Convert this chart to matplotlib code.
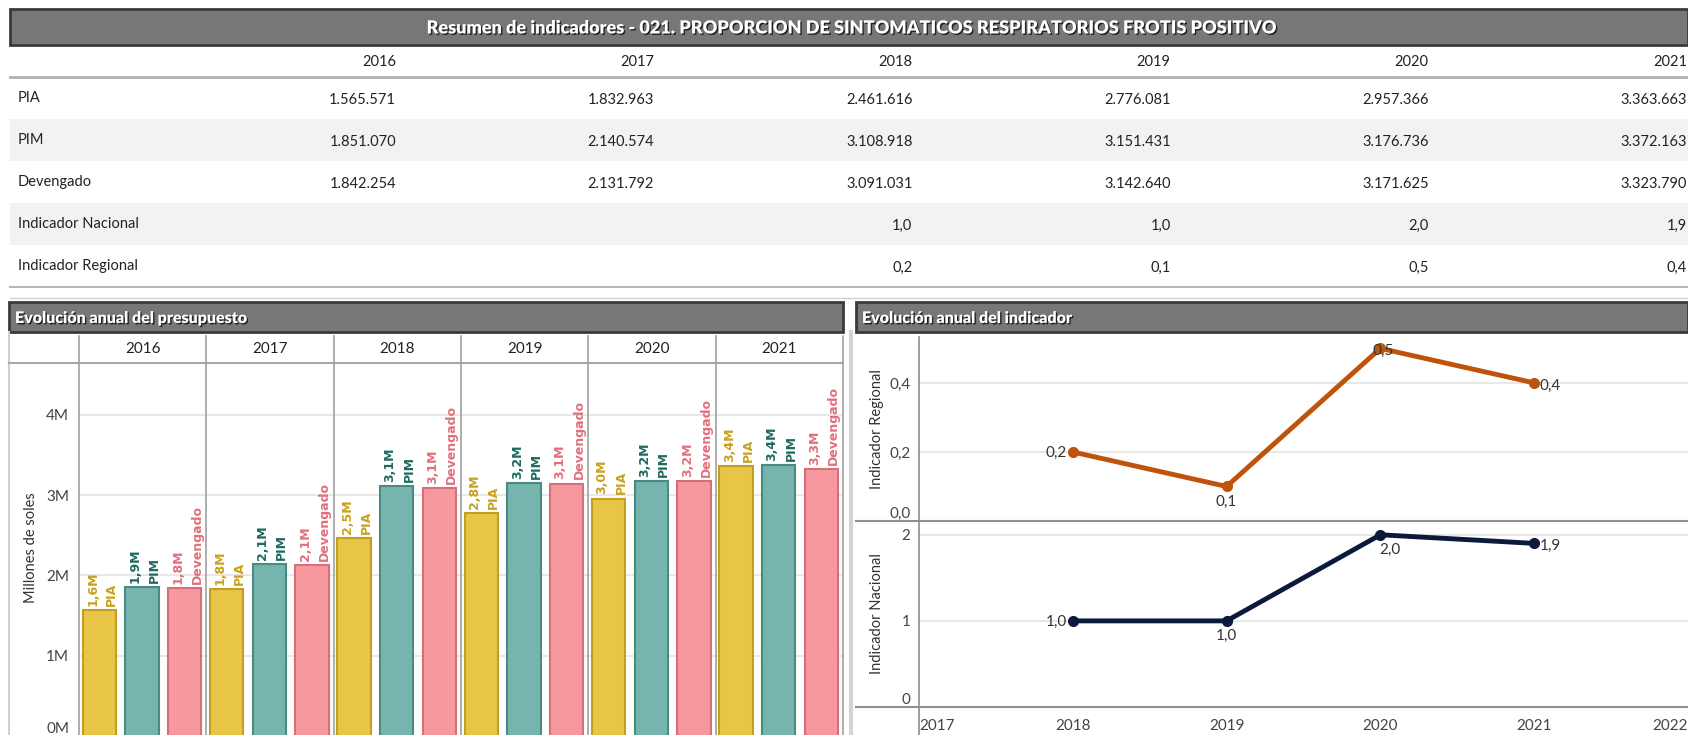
import matplotlib
matplotlib.use("Agg")
import matplotlib.pyplot as plt
import matplotlib.patches as mpatches
import matplotlib.patheffects as pe
import matplotlib.transforms as mtransforms
from matplotlib.ticker import FuncFormatter
import numpy as np

W, H = 1688, 735

# datos
years = [2016, 2017, 2018, 2019, 2020, 2021]
pia = [1565571, 1832963, 2461616, 2776081, 2957366, 3363663]
pim = [1851070, 2140574, 3108918, 3151431, 3176736, 3372163]
devengado = [1842254, 2131792, 3091031, 3142640, 3171625, 3323790]

ind_years = [2018, 2019, 2020, 2021]
ind_nacional = [1.0, 1.0, 2.0, 1.9]
ind_regional = [0.2, 0.1, 0.5, 0.4]

titulo = "Resumen de indicadores - 021. PROPORCION DE SINTOMATICOS RESPIRATORIOS FROTIS POSITIVO"


def miles(v):
    return f"{v:,}".replace(",", ".")


def dec(v):
    return f"{v:.1f}".replace(".", ",")


plt.rcParams['font.family'] = ['Lato', 'DejaVu Sans']

fig = plt.figure(figsize=(W / 100, H / 100), dpi=100, facecolor='white')


def px_axes(x0, y0, x1, y1):
    return fig.add_axes([x0 / W, 1 - y1 / H, (x1 - x0) / W, (y1 - y0) / H])


# fondo en pixeles
bg = px_axes(0, 0, W, H)
bg.set_xlim(0, W)
bg.set_ylim(H, 0)
bg.axis('off')

sombra = [pe.withSimplePatchShadow(offset=(1, -1), shadow_rgbFace='black', alpha=0.7)]


def title_bar(x0, y0, x1, y1, text, center=False, size=10):
    bg.add_patch(mpatches.Rectangle((x0, y0), x1 - x0, y1 - y0, fc='#777777', ec='#3a3a3a', lw=2))
    tx = (x0 + x1) / 2 if center else x0 + 6
    bg.text(tx, (y0 + y1) / 2 + 1, text, ha='center' if center else 'left', va='center',
            color='white', fontsize=size, fontweight='heavy', path_effects=sombra)


# ---- tabla resumen ----
title_bar(10, 9, 1688, 45, titulo, center=True, size=13)

col_right = [396 + 258.2 * i for i in range(len(years))]
row_top = [77 + 42 * i for i in range(5)]

filas = [
    ("PIA", [miles(v) for v in pia]),
    ("PIM", [miles(v) for v in pim]),
    ("Devengado", [miles(v) for v in devengado]),
    ("Indicador Nacional", [dec(ind_nacional[ind_years.index(y)]) if y in ind_years else "" for y in years]),
    ("Indicador Regional", [dec(ind_regional[ind_years.index(y)]) if y in ind_years else "" for y in years]),
]

for i, (nombre, vals) in enumerate(filas):
    y0 = row_top[i]
    if i % 2 == 1:
        bg.add_patch(mpatches.Rectangle((10, y0), W - 10, 42, fc='#f2f2f2', ec='none'))
    bg.text(18, y0 + 21, nombre, ha='left', va='center', fontsize=10.5, color='#222222')
    for xr, v in zip(col_right, vals):
        bg.text(xr, y0 + 23, v, ha='right', va='center', fontsize=10.5, color='#222222')

for xr, y in zip(col_right, years):
    bg.text(xr, 62, str(y), ha='right', va='center', fontsize=10.5, color='#222222')

bg.plot([10, W], [77, 77], color='#b0b0b0', lw=2)
bg.plot([10, W], [287, 287], color='#b8b8b8', lw=1.5)
bg.plot([10, W], [298, 298], color='#d0d0d0', lw=1)

# ---- panel presupuesto ----
title_bar(9, 302, 843, 332, "Evolución anual del presupuesto", size=11.5)
bg.plot([9, 9], [332, H], color='#d0d0d0', lw=1.5)
bg.plot([851, 851], [332, H], color='#d4d4d4', lw=3)

ax = px_axes(79, 363, 843, 736)
x = np.arange(len(years))
series = [
    ("PIA", pia, 0.16, '#E8C547', '#C29F22', '#C8A21E'),
    ("PIM", pim, 0.495, '#76B5AE', '#4B8A83', '#1E6A61'),
    ("Devengado", devengado, 0.83, '#F7989F', '#D56F79', '#E0707C'),
]
for nombre, vals, off, fc, ec, tc in series:
    ax.bar(x + off, vals, width=0.26, color=fc, edgecolor=ec, linewidth=1.5, zorder=3)
    for xi, v in zip(x + off, vals):
        ax.annotate(f"{dec(v / 1e6)}M\n{nombre}", (xi, v), xytext=(2, 3), textcoords='offset points',
                    rotation=90, ha='center', va='bottom', multialignment='left',
                    fontsize=9, fontweight='bold', family='DejaVu Sans', color=tc, linespacing=1.6)

ax.set_xlim(0, 6)
ax.set_ylim(0, 4.645e6)
ax.set_yticks([0, 1e6, 2e6, 3e6, 4e6])
ax.yaxis.set_major_formatter(FuncFormatter(lambda v, p: f"{v / 1e6:.0f}M"))
ax.set_xticks([])
ax.tick_params(axis='y', length=0, pad=7, labelsize=11, labelcolor='#444444')
ax.get_yticklabels()[0].set_va('bottom')
ax.yaxis.grid(True, color='#e4e4e4', lw=1.2)
ax.set_axisbelow(True)
for s in ax.spines.values():
    s.set_visible(False)
ax.set_ylabel("Millones de soles", fontsize=10.5, color='#333333')
ax.yaxis.set_label_coords(-0.054, 0.504)

trans = mtransforms.blended_transform_factory(ax.transData, ax.transAxes)
for i in range(len(years) + 1):
    ax.plot([i, i], [0, 1.072], transform=trans, color='#a0a0a0', lw=1.2, clip_on=False, zorder=4)
for i, y in enumerate(years):
    ax.text(i + 0.5, 1.037, str(y), transform=trans, ha='center', va='center', fontsize=11, color='#222222')
ax.plot([-0.092, 1], [1, 1], transform=ax.transAxes, color='#a8a8a8', lw=1.5, clip_on=False)

# ---- panel indicador ----
title_bar(856, 302, 1688, 332, "Evolución anual del indicador", size=11.5)

axr = px_axes(919, 337, 1688, 521)
axn = px_axes(919, 521, 1688, 707)

axr.plot(ind_years, ind_regional, color='#C0530B', lw=3.5, marker='o', ms=7, zorder=3)
axn.plot(ind_years, ind_nacional, color='#0B1A3C', lw=3.5, marker='o', ms=7, zorder=3)

axr.set_ylim(0, 0.533)
axr.set_yticks([0, 0.2, 0.4])
axr.set_yticklabels(["0,0", "0,2", "0,4"])
axn.set_ylim(0, 2.16)
axn.set_yticks([0, 1, 2])
axn.set_yticklabels(["0", "1", "2"])

for a, lab in [(axr, "Indicador Regional"), (axn, "Indicador Nacional")]:
    a.set_xlim(2017, 2022)
    a.set_xticks(range(2017, 2023))
    a.tick_params(length=0, labelsize=11, labelcolor='#444444')
    a.tick_params(axis='y', pad=6)
    a.get_yticklabels()[0].set_va('bottom')
    a.yaxis.grid(True, color='#e4e4e4', lw=1.2)
    a.set_axisbelow(True)
    for s in ['top', 'right', 'bottom']:
        a.spines[s].set_visible(False)
    a.spines['left'].set_color('#8c8c8c')
    a.spines['left'].set_linewidth(1.2)
    a.set_ylabel(lab, fontsize=10.5, color='#333333')
    a.yaxis.set_label_coords(-0.046, 0.5)
    a.plot([-0.082, 1], [0, 0], transform=a.transAxes, color='#909090', lw=1.5, clip_on=False)
    a.set_facecolor('none')

axr.tick_params(axis='x', labelbottom=False)
axn.tick_params(axis='x', pad=9)
xl = axn.get_xticklabels()
xl[0].set_ha('left')
xl[-1].set_ha('right')
axn.plot([0, 0], [0, -0.16], transform=axn.transAxes, color='#8c8c8c', lw=1.2, clip_on=False)

pos = {
    'left': ((-4, -1), 'right', 'center'),
    'right': ((4, -2), 'left', 'center'),
    'below': ((0, -6), 'center', 'top'),
    'below_r': ((7, -6), 'center', 'top'),
    'on': ((2, -2), 'center', 'center'),
}
reg_pos = ['left', 'below', 'on', 'right']
nac_pos = ['left', 'below', 'below_r', 'right']
for a, vals, ps in [(axr, ind_regional, reg_pos), (axn, ind_nacional, nac_pos)]:
    for xv, v, p in zip(ind_years, vals, ps):
        off, ha, va = pos[p]
        a.annotate(dec(v), (xv, v), xytext=off, textcoords='offset points',
                   ha=ha, va=va, fontsize=11, color='#333333', zorder=5)

fig.savefig("out.png", dpi=100, facecolor='white')
